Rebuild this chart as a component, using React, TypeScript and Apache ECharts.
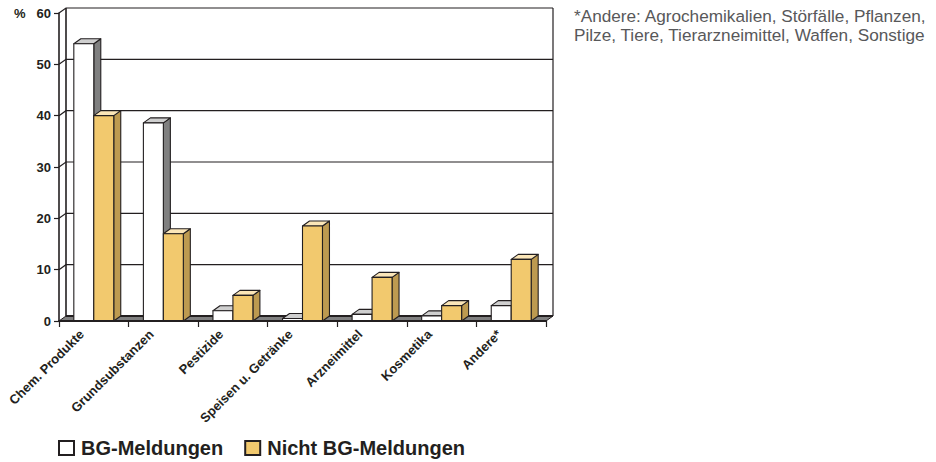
import React, { useEffect, useRef } from "react";
import * as echarts from "echarts";

const categories = ["Chem. Produkte", "Grundsubstanzen", "Pestizide", "Speisen u. Getränke", "Arzneimittel", "Kosmetika", "Andere*"];
const bgMeldungen = [54, 38.6, 2, 0.5, 1.3, 1, 3];
const nichtBgMeldungen = [40, 17, 5, 18.5, 8.5, 3, 12];
const yTicks = [0, 10, 20, 30, 40, 50, 60];
const noteLines = ["*Andere: Agrochemikalien, Störfälle, Pflanzen,", "Pilze, Tiere, Tierarzneimittel, Waffen, Sonstige"];

const INK = "#231f20";
const DX = 7;
const DY = -5;

// Back wall lines and the floor of the pseudo-3D plot box.
function renderWall(params: any, api: any) {
  const v = api.value(0);
  const cs = params.coordSys;
  const y = api.coord([0, v])[1];
  const x0 = cs.x;
  const x1 = cs.x + cs.width;
  const children: any[] = [];
  if (v === 0) {
    children.push({
      type: "polygon",
      shape: { points: [[x0, y], [x0 + DX, y + DY], [x1 + DX, y + DY], [x1, y]] },
      style: { fill: "#808080", stroke: INK, lineWidth: 1 },
    });
    children.push({
      type: "line",
      shape: { x1: x0 + DX, y1: y + DY, x2: x1 + DX, y2: y + DY },
      style: { stroke: INK, lineWidth: 2 },
    });
  } else {
    children.push({
      type: "polyline",
      shape: { points: [[x0, y], [x0 + DX, y + DY], [x1 + DX, y + DY]] },
      style: { stroke: INK, lineWidth: 1.2, fill: "none" },
    });
  }
  if (v === 60) {
    children.push({
      type: "polyline",
      shape: { points: [[x0 + DX, cs.y + cs.height + DY], [x0 + DX, y + DY]] },
      style: { stroke: INK, lineWidth: 1.6, fill: "none" },
    });
    children.push({
      type: "line",
      shape: { x1: x1 + DX, y1: y + DY, x2: x1 + DX, y2: cs.y + cs.height + DY },
      style: { stroke: INK, lineWidth: 1.2 },
    });
  }
  return { type: "group", children };
}

// One extruded bar: front face, top face and right side face.
function barRenderer(side: -1 | 1, front: string, top: string, flank: string) {
  return (_params: any, api: any) => {
    const idx = api.value(0);
    const [cx, yTop] = api.coord([idx, api.value(1)]);
    const yBase = api.coord([idx, 0])[1];
    const w = api.size([1, 0])[0] * 0.287;
    const xa = side < 0 ? cx - w : cx;
    const xb = xa + w;
    const edge = { stroke: INK, lineWidth: 1.1, lineJoin: "round" };
    return {
      type: "group",
      children: [
        {
          type: "polygon",
          shape: { points: [[xb, yBase], [xb + DX, yBase + DY], [xb + DX, yTop + DY], [xb, yTop]] },
          style: { fill: flank, ...edge },
        },
        {
          type: "polygon",
          shape: { points: [[xa, yTop], [xa + DX, yTop + DY], [xb + DX, yTop + DY], [xb, yTop]] },
          style: { fill: top, ...edge },
        },
        {
          type: "rect",
          shape: { x: xa, y: yTop, width: w, height: yBase - yTop },
          style: { fill: front, ...edge },
        },
      ],
    };
  };
}

export default function App() {
  const ref = useRef<HTMLDivElement>(null);

  useEffect(() => {
    const chart = echarts.init(ref.current!, null, { renderer: "svg" });
    chart.setOption({
      animation: false,
      backgroundColor: "#fff",
      textStyle: { fontFamily: "'Liberation Sans', Arial, sans-serif", color: INK },
      grid: { left: 59, right: 390, top: 13, bottom: 141 },
      legend: {
        left: 58,
        top: 438,
        padding: 0,
        icon: "rect",
        itemWidth: 15,
        itemHeight: 14,
        itemGap: 21,
        data: ["BG-Meldungen", "Nicht BG-Meldungen"],
        textStyle: { fontSize: 20, fontWeight: "bold", color: INK, padding: [0, 0, 0, 2] },
      },
      xAxis: {
        type: "category",
        data: categories,
        z: 5,
        axisLine: { lineStyle: { color: INK, width: 1.8 } },
        axisTick: { show: true, length: 6, alignWithLabel: false, lineStyle: { color: INK, width: 1.2 } },
        axisLabel: {
          interval: 0,
          rotate: 45,
          fontSize: 13,
          fontWeight: "bold",
          color: INK,
          margin: -1,
          padding: [0, 17, 0, 0],
        },
      },
      yAxis: {
        type: "value",
        min: 0,
        max: 60,
        interval: 10,
        z: 5,
        splitLine: { show: false },
        axisLine: { show: true, lineStyle: { color: INK, width: 1.6 } },
        axisTick: { show: true, length: 5, lineStyle: { color: INK, width: 1.2 } },
        axisLabel: { fontSize: 13, fontWeight: "bold", color: INK, margin: 8 },
      },
      graphic: [
        {
          type: "text",
          x: 14,
          y: 7,
          style: { text: "%", font: "bold 13px 'Liberation Sans', Arial, sans-serif", fill: INK },
        },
        {
          type: "text",
          x: 574,
          y: 6,
          style: {
            text: noteLines.join("\n"),
            font: "17.2px 'Liberation Sans', Arial, sans-serif",
            lineHeight: 19.5,
            fill: "#58585a",
          },
        },
      ],
      series: [
        {
          type: "custom",
          name: "Wand",
          silent: true,
          z: 1,
          clip: false,
          renderItem: renderWall,
          data: yTicks.map((v) => [v]),
          encode: { y: 0 },
        },
        {
          type: "custom",
          name: "BG-Meldungen",
          z: 2,
          clip: false,
          itemStyle: { color: "#ffffff", borderColor: INK, borderWidth: 2 },
          renderItem: barRenderer(-1, "#ffffff", "#cfcfcf", "#808080"),
          data: bgMeldungen.map((v, i) => [i, v]),
          encode: { x: 0, y: 1 },
        },
        {
          type: "custom",
          name: "Nicht BG-Meldungen",
          z: 3,
          clip: false,
          itemStyle: { color: "#f2c96e", borderColor: INK, borderWidth: 2 },
          renderItem: barRenderer(1, "#f2c96e", "#fbe6b8", "#bd9a50"),
          data: nichtBgMeldungen.map((v, i) => [i, v]),
          encode: { x: 0, y: 1 },
        },
      ],
    });
    return () => chart.dispose();
  }, []);

  return <div ref={ref} style={{ position: "absolute", left: 0, top: 0, width: 936, height: 462 }} />;
}
